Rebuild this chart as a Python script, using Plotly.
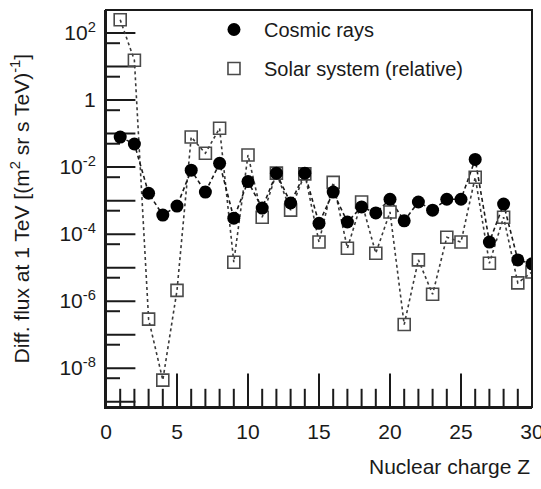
import plotly.graph_objects as go

# Nuclear charge Z
z = list(range(1, 31))

# Cosmic-ray differential flux at 1 TeV [(m^2 sr s TeV)^-1]
cosmic_rays = [7.9e-2, 4.9e-2, 1.66e-3, 3.7e-4, 6.9e-4, 8.1e-3, 1.8e-3, 1.3e-2, 3.0e-4, 3.7e-3,
               6.0e-4, 6.6e-3, 8.5e-4, 6.6e-3, 2.1e-4, 1.8e-3, 2.3e-4, 6.5e-4, 4.3e-4, 1.1e-3,
               2.5e-4, 9.1e-4, 5.2e-4, 1.1e-3, 1.1e-3, 1.7e-2, 5.8e-5, 7.9e-4, 1.7e-5, 1.3e-5]

# Solar-system abundances (relative)
solar_system = [2.5e2, 15.5, 2.9e-7, 4.4e-9, 2.1e-6, 7.9e-2, 2.6e-2, 1.45e-1, 1.45e-5, 2.3e-2,
                3.2e-4, 6.6e-3, 5.2e-4, 6.3e-3, 5.8e-5, 3.5e-3, 3.8e-5, 9.1e-4, 2.7e-5, 4.6e-4,
                2.0e-7, 1.7e-5, 1.6e-6, 8.1e-5, 5.8e-5, 5.0e-3, 1.35e-5, 3.2e-4, 3.5e-6, 7.4e-6]

# Axis ticks
y_major_vals = [1e-9, 1e-8, 1e-7, 1e-6, 1e-5, 1e-4, 1e-3, 1e-2, 1e-1, 1, 10, 100]
y_major_text = ["", "10<sup>-8</sup>", "", "10<sup>-6</sup>", "", "10<sup>-4</sup>", "",
                "10<sup>-2</sup>", "", "1", "", "10<sup>2</sup>"]
y_minor_vals = [5e-9, 5e-8, 5e-7, 5e-6, 5e-5, 5e-4, 5e-3, 5e-2, 5e-1, 5, 50]
x_major_vals = [0, 5, 10, 15, 20, 25, 30]
x_minor_vals = [v for v in range(1, 30) if v % 5 != 0]

X_RANGE = [0, 30]
Y_RANGE = [-9.16, 2.69]  # log10 units
FONT = "Liberation Sans, Arial, sans-serif"
INK = "#1a1a1a"

fig = go.Figure()


def tick_trace(xv, yv, symbol, length):
    # inside tick marks: a line marker centred on the axis, half clipped by the plot area
    return go.Scatter(x=xv, y=yv, mode="markers", showlegend=False, hoverinfo="skip",
                      cliponaxis=True,
                      marker=dict(symbol=symbol, size=2 * length, color=INK,
                                  line=dict(width=2, color=INK)))


y_bottom = 10 ** Y_RANGE[0]
x_left = X_RANGE[0]
inner_major_x = [v for v in x_major_vals if X_RANGE[0] < v < X_RANGE[1]]
fig.add_trace(tick_trace(inner_major_x, [y_bottom] * len(inner_major_x), "line-ns", 24))
fig.add_trace(tick_trace(x_minor_vals, [y_bottom] * len(x_minor_vals), "line-ns", 13))
fig.add_trace(tick_trace([x_left] * len(y_major_vals), y_major_vals, "line-ew", 21))
fig.add_trace(tick_trace([x_left] * len(y_minor_vals), y_minor_vals, "line-ew", 10))

# connecting lines (no legend)
fig.add_trace(go.Scatter(x=z, y=solar_system, mode="lines", showlegend=False,
                         line=dict(color="#3a3a3a", width=1.6, dash="dot"), hoverinfo="skip"))
fig.add_trace(go.Scatter(x=z, y=cosmic_rays, mode="lines", showlegend=False,
                         line=dict(color=INK, width=1.6, dash="4px,3px"), hoverinfo="skip"))

# markers (with legend)
fig.add_trace(go.Scatter(x=z, y=solar_system, mode="markers", name="Solar system (relative)",
                         legendgroup="b", legendrank=2,
                         marker=dict(symbol="square-open", size=12, color="#4a4a4a",
                                     line=dict(width=1.6, color="#4a4a4a"))))
fig.add_trace(go.Scatter(x=z, y=cosmic_rays, mode="markers", name="Cosmic rays",
                         legendgroup="a", legendrank=1,
                         marker=dict(symbol="circle", size=13, color="#000000")))

fig.update_layout(
    template="none",
    width=541, height=489, autosize=False,
    margin=dict(l=106, r=9, t=10, b=82),
    font=dict(family=FONT, size=21, color=INK),
    legend=dict(x=0.23, y=1.0, xanchor="left", yanchor="top",
                bgcolor="rgba(0,0,0,0)", font=dict(size=20, color=INK),
                traceorder="grouped", tracegroupgap=10, itemwidth=50),
    xaxis=dict(range=X_RANGE, tickmode="array", tickvals=x_major_vals,
               ticks="", showline=True, linecolor=INK, linewidth=2,
               showgrid=False, zeroline=False, automargin=False,
               ticklabeloverflow="allow", ticklabelstandoff=5),
    yaxis=dict(type="log", range=Y_RANGE, tickmode="array", tickvals=y_major_vals,
               ticktext=y_major_text, ticks="", showline=True, linecolor=INK, linewidth=2,
               showgrid=False, zeroline=False, automargin=False, ticklabelstandoff=4),
    shapes=[dict(type="rect", xref="paper", yref="paper", x0=0, y0=0, x1=1, y1=1,
                 line=dict(color=INK, width=2), fillcolor="rgba(0,0,0,0)", layer="above")],
    annotations=[
        dict(text="Nuclear charge Z", xref="paper", yref="paper", x=1.0, y=-0.15,
             xanchor="right", yanchor="middle", showarrow=False, font=dict(size=21)),
        dict(text="Diff. flux at 1 TeV [(m<sup>2</sup> sr s TeV)<sup>-1</sup>]",
             xref="paper", yref="paper", x=-0.202, y=0.5, xanchor="center",
             yanchor="middle", textangle=-90, showarrow=False, font=dict(size=21)),
    ],
)

fig.write_html("out.html")
